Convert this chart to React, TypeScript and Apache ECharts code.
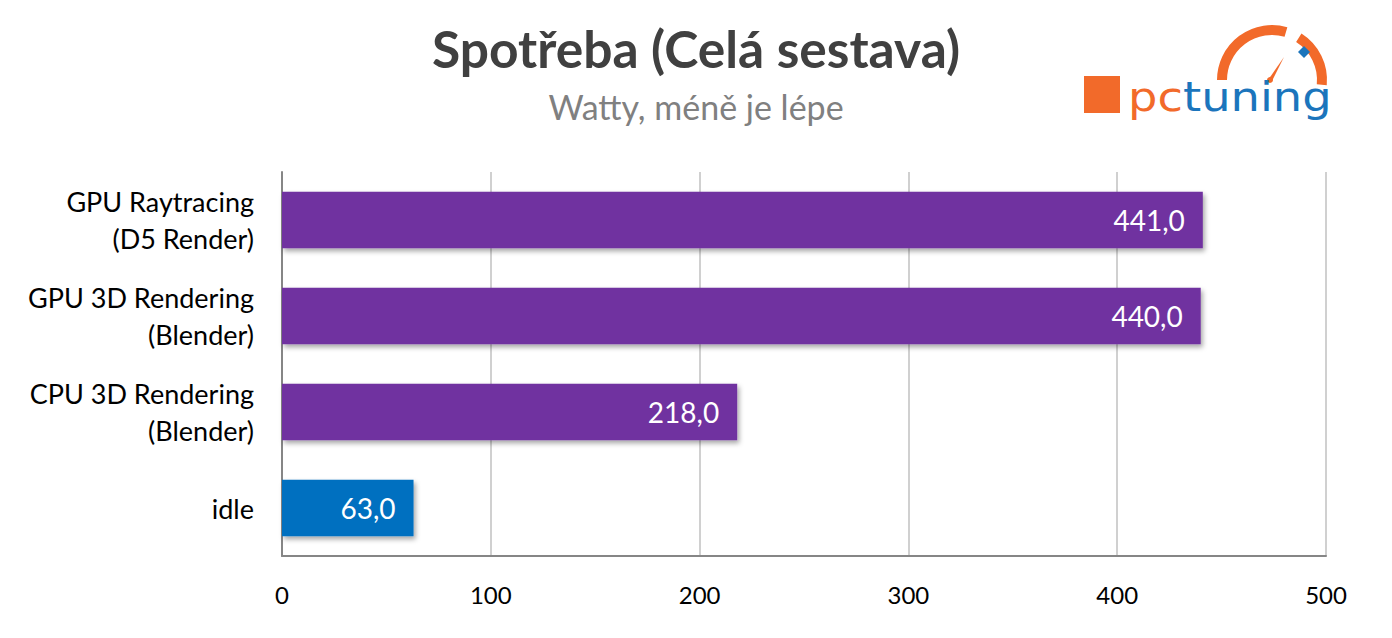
import React, { useEffect, useRef } from "react";
import * as echarts from "echarts";

const categories = [
  "GPU Raytracing\n(D5 Render)",
  "GPU 3D Rendering\n(Blender)",
  "CPU 3D Rendering\n(Blender)",
  "idle",
];
const values = [441.0, 440.0, 218.0, 63.0];
const barColors = ["#7030A0", "#7030A0", "#7030A0", "#0070C0"];
const xTicks = { min: 0, max: 500, interval: 100 };
const titleText = "Spotřeba (Celá sestava)";
const subtitleText = "Watty, méně je lépe";

const FONT = "Lato, 'Open Sans', sans-serif";

export default function App() {
  const ref = useRef<HTMLDivElement>(null);
  useEffect(() => {
    document.body.style.margin = "0";
    if (!ref.current) return;
    const chart = echarts.init(ref.current, null, { renderer: "svg" });
    const orange = "#F26A2A";
    const blue = "#1B75BC";
    chart.setOption({
      animation: false,
      backgroundColor: "#ffffff",
      title: [
        {
          text: titleText,
          left: "center",
          top: 17,
          textStyle: { fontFamily: FONT, fontSize: 51.5, fontWeight: "bold", color: "#404040" },
        },
        {
          text: subtitleText,
          left: "center",
          top: 84,
          textStyle: { fontFamily: FONT, fontSize: 34, fontWeight: "normal", color: "#808080" },
        },
      ],
      grid: { left: 282, right: 66, top: 172, bottom: 82 },
      xAxis: {
        type: "value",
        min: xTicks.min,
        max: xTicks.max,
        interval: xTicks.interval,
        axisLine: { show: true, onZero: false, lineStyle: { color: "#868686", width: 2 } },
        axisTick: { show: false },
        axisLabel: { fontFamily: FONT, fontSize: 24, color: "#000000", margin: 26 },
        splitLine: { show: true, lineStyle: { color: "#d0d0d0", width: 2 } },
      },
      yAxis: {
        type: "category",
        inverse: true,
        data: categories,
        axisLine: { show: true, lineStyle: { color: "#868686", width: 2 } },
        axisTick: { show: false },
        axisLabel: {
          fontFamily: FONT,
          fontSize: 27,
          color: "#000000",
          margin: 28,
          lineHeight: 37,
          align: "right",
        },
      },
      series: [
        {
          type: "bar",
          barWidth: "59%",
          data: values.map((v, i) => ({
            value: v,
            itemStyle: {
              color: barColors[i],
              shadowBlur: 5,
              shadowOffsetX: 2,
              shadowOffsetY: 3,
              shadowColor: "rgba(0,0,0,0.35)",
            },
          })),
          label: {
            show: true,
            position: "insideRight",
            distance: 18,
            fontFamily: FONT,
            fontSize: 28,
            color: "#ffffff",
            formatter: (p: any) => p.value.toFixed(1).replace(".", ","),
          },
        },
      ],
      graphic: [
        { type: "rect", shape: { x: 1084, y: 76, width: 36, height: 37 }, style: { fill: orange } },
        {
          type: "arc",
          shape: { cx: 1272, cy: 80, r: 50, startAngle: Math.PI, endAngle: Math.PI * 1.59, clockwise: true },
          style: { stroke: orange, lineWidth: 10, fill: "none" },
        },
        {
          type: "arc",
          shape: { cx: 1272, cy: 80, r: 50, startAngle: Math.PI * 1.68, endAngle: Math.PI * 2.03, clockwise: true },
          style: { stroke: orange, lineWidth: 10, fill: "none" },
        },
        {
          type: "polygon",
          shape: { points: [[1304, 46], [1310, 52], [1304, 58], [1298, 52]] },
          style: { fill: blue },
        },
        {
          type: "polygon",
          shape: { points: [[1268, 80], [1284, 57], [1272, 81]] },
          style: { fill: orange },
        },
        { type: "circle", shape: { cx: 1270, cy: 80, r: 3 }, style: { fill: orange } },
        {
          type: "text",
          x: 1128,
          y: 77,
          scaleX: 1.16,
          style: {
            text: "{a|pc}{b|tuning}",
            fontFamily: "'DejaVu Sans', sans-serif",
            fontSize: 40,
            verticalAlign: "top",
            rich: {
              a: { fontFamily: "'DejaVu Sans', sans-serif", fontSize: 40, fill: orange, color: orange },
              b: { fontFamily: "'DejaVu Sans', sans-serif", fontSize: 40, fill: blue, color: blue },
            },
          },
        },
      ],
    });
    return () => chart.dispose();
  }, []);
  return <div ref={ref} style={{ width: 1392, height: 638 }} />;
}
